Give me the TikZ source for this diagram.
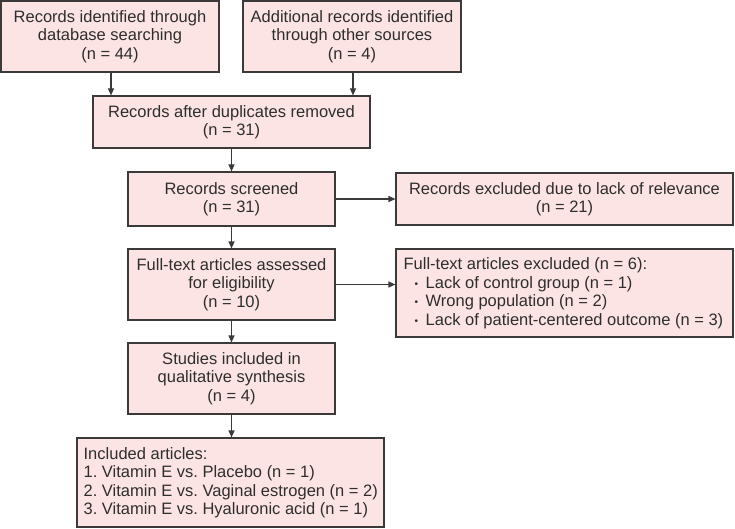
\documentclass[tikz,border=0pt]{standalone}
\usepackage{fontspec}
\setmainfont{Liberation Sans}
\usetikzlibrary{arrows.meta}
\definecolor{boxfill}{HTML}{FCE4E4}
\definecolor{boxline}{HTML}{3A3A3A}
\definecolor{txt}{HTML}{2E2E2E}
\tikzset{
  box/.style={draw=boxline, fill=boxfill, line width=1.1pt, inner sep=0pt, align=center,
    text=txt, font=\fontsize{16.5}{18.5}\selectfont},
  ltext/.style={inner sep=0pt, align=left, anchor=west, text=txt,
    font=\fontsize{16.5}{18.5}\selectfont},
  arr/.style={draw=boxline, line width=1.1pt, -{Triangle[length=7pt,width=6pt]}}
}
\newcommand{\mybul}{\hspace*{11pt}\raisebox{0.8pt}{\fontsize{10}{10}\selectfont •}\hspace{7.5pt}}
\frenchspacing
\begin{document}
\begin{tikzpicture}[x=1pt,y=-1pt]
\useasboundingbox (0,0) rectangle (735,529);
\node[box, minimum width=218pt, minimum height=71pt] (b1) at (110,36.5)
  {Records identified through\\database searching\\(n = 44)};
\node[box, minimum width=218pt, minimum height=71pt] (b2) at (352,36.5)
  {Additional records identified\\through other sources\\(n = 4)};
\node[box, minimum width=277pt, minimum height=52pt] (b3) at (231.5,122)
  {Records after duplicates removed\\(n = 31)};
\node[box, minimum width=207pt, minimum height=54pt] (b4) at (231.5,199)
  {Records screened\\(n = 31)};
\node[box, minimum width=337pt, minimum height=52pt] (r1) at (564.5,199)
  {Records excluded due to lack of relevance\\(n = 21)};
\node[box, minimum width=207pt, minimum height=71pt] (b5) at (231.5,284.5)
  {Full-text articles assessed\\for eligibility\\(n = 10)};
\node[box, minimum width=337pt, minimum height=88pt] (r2) at (564.5,293) {};
\node[ltext] (r2t) at ([xshift=8pt]r2.west)
  {Full-text articles excluded (n = 6):\\
   \mybul Lack of control group (n = 1)\\
   \mybul Wrong population (n = 2)\\
   \mybul Lack of patient-centered outcome (n = 3)};
\node[box, minimum width=207pt, minimum height=71pt] (b6) at (231.5,378.5)
  {Studies included in\\qualitative synthesis\\(n = 4)};
\node[box, minimum width=307pt, minimum height=89pt] (b7) at (230.5,482.5) {};
\node[ltext] (b7t) at ([xshift=7pt]b7.west)
  {Included articles:\\
   1. Vitamin E vs. Placebo (n = 1)\\
   2. Vitamin E vs. Vaginal estrogen (n = 2)\\
   3. Vitamin E vs. Hyaluronic acid (n = 1)};
\coordinate (a1) at (111,0);
\coordinate (a2) at (353,0);
\draw[arr] (b1.south -| a1) -- (b3.north -| a1);
\draw[arr] (b2.south -| a2) -- (b3.north -| a2);
\draw[arr] (b3.south) -- (b4.north);
\draw[arr] (b4.east) -- (r1.west);
\draw[arr] (b4.south) -- (b5.north);
\draw[arr] (b5.east) -- (b5.east -| r2.west);
\draw[arr] (b5.south) -- (b6.north);
\draw[arr] (b6.south) -- (b6.south |- b7.north);
\end{tikzpicture}
\end{document}
